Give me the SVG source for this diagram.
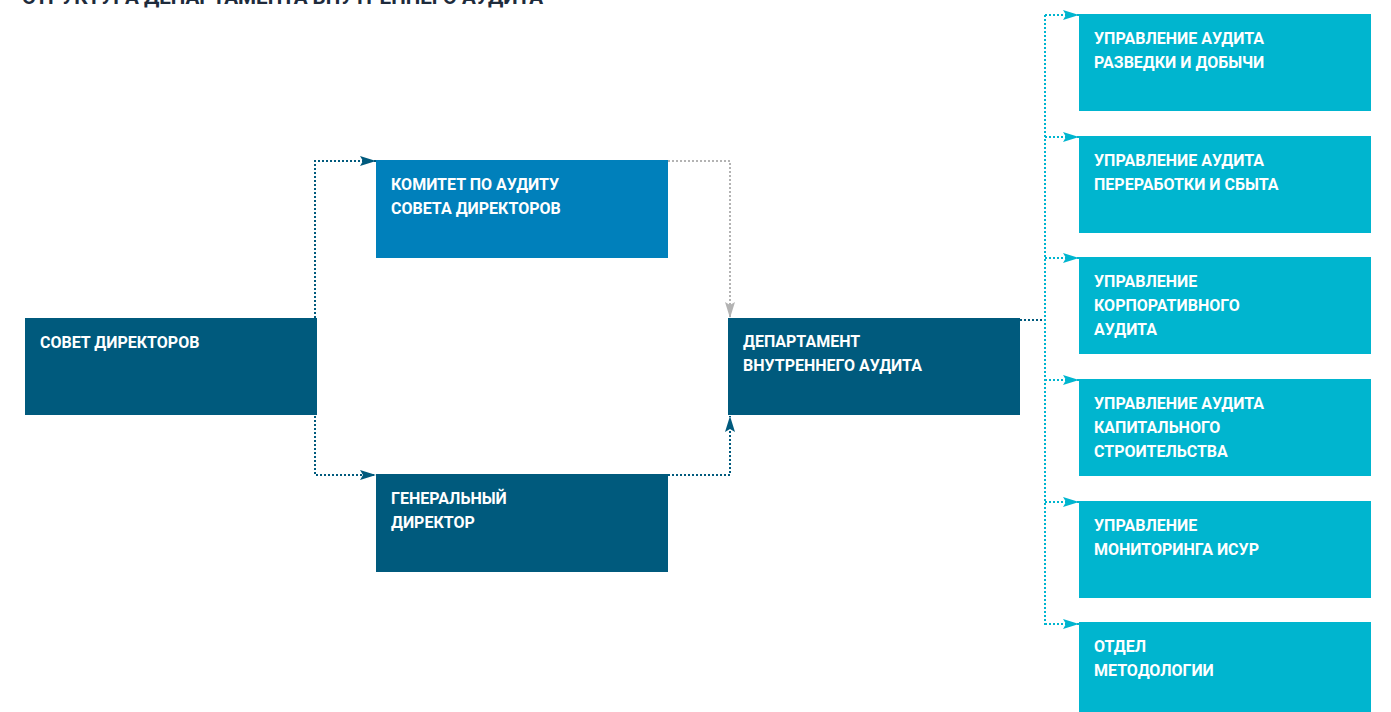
<svg xmlns="http://www.w3.org/2000/svg" width="1391" height="712" viewBox="0 0 1391 712">
<style>
.t{font-family:Roboto,"Liberation Sans",sans-serif;font-weight:700;font-size:16px;fill:#ffffff}
.title{font-family:Roboto,"Liberation Sans",sans-serif;font-weight:700;font-size:21px;fill:#1e2b3c}
.dk{fill:#005a7d}.md{fill:#0080bb}.cy{fill:#00b5cf}
.c{fill:none;stroke-width:2;stroke-dasharray:2 2}
.cd{stroke:#005a7d}.cg{stroke:#b3b3b3}.cc{stroke:#00b5cf}
</style>
<defs>
<marker id="ad" markerWidth="16" markerHeight="10" refX="16" refY="5" orient="auto" markerUnits="userSpaceOnUse"><path d="M0,0 L16,5 L0,10 L3,5 Z" fill="#005a7d"/></marker>
<marker id="ag" markerWidth="16" markerHeight="10" refX="16" refY="5" orient="auto" markerUnits="userSpaceOnUse"><path d="M0,0 L16,5 L0,10 L3,5 Z" fill="#b3b3b3"/></marker>
<marker id="ac" markerWidth="16" markerHeight="10" refX="16" refY="5" orient="auto" markerUnits="userSpaceOnUse"><path d="M0,0 L16,5 L0,10 L3,5 Z" fill="#00b5cf"/></marker>
</defs>
<rect width="1391" height="712" fill="#ffffff"/>
<text class="title" x="22" y="4" textLength="521" lengthAdjust="spacingAndGlyphs">СТРУКТУРА ДЕПАРТАМЕНТА ВНУТРЕННЕГО АУДИТА</text>
<g id="connectors">
<path class="c cd" d="M315,318 V161 H376" marker-end="url(#ad)"/>
<path class="c cd" d="M315,416 V475 H376" marker-end="url(#ad)"/>
<path class="c cg" d="M668,161 H730 V318" marker-end="url(#ag)"/>
<path class="c cd" d="M668,475 H730 V416" marker-end="url(#ad)"/>
<path class="c cd" d="M1020,320 H1045"/>
<path class="c cc" d="M1045,15 V625"/>
<path class="c cc" d="M1045,15 H1079" marker-end="url(#ac)"/>
<path class="c cc" d="M1045,137 H1079" marker-end="url(#ac)"/>
<path class="c cc" d="M1045,258 H1079" marker-end="url(#ac)"/>
<path class="c cc" d="M1045,380 H1079" marker-end="url(#ac)"/>
<path class="c cc" d="M1045,502 H1079" marker-end="url(#ac)"/>
<path class="c cc" d="M1045,624 H1079" marker-end="url(#ac)"/>
</g>
<g id="sovet"><rect class="dk" x="25" y="318" width="292" height="97"/><text class="t" x="40" y="348">СОВЕТ ДИРЕКТОРОВ</text></g>
<g id="komitet"><rect class="md" x="376" y="160" width="292" height="98"/><text class="t" x="391" y="190">КОМИТЕТ ПО АУДИТУ</text><text class="t" x="391" y="214">СОВЕТА ДИРЕКТОРОВ</text></g>
<g id="gendir"><rect class="dk" x="376" y="474" width="292" height="98"/><text class="t" x="391" y="504">ГЕНЕРАЛЬНЫЙ</text><text class="t" x="391" y="528">ДИРЕКТОР</text></g>
<g id="dvа"><rect class="dk" x="728" y="318" width="292" height="97"/><text class="t" x="743" y="347">ДЕПАРТАМЕНТ</text><text class="t" x="743" y="371">ВНУТРЕННЕГО АУДИТА</text></g>
<g id="u1"><rect class="cy" x="1079" y="14" width="292" height="97"/><text class="t" x="1094" y="44">УПРАВЛЕНИЕ АУДИТА</text><text class="t" x="1094" y="68">РАЗВЕДКИ И ДОБЫЧИ</text></g>
<g id="u2"><rect class="cy" x="1079" y="136" width="292" height="97"/><text class="t" x="1094" y="166">УПРАВЛЕНИЕ АУДИТА</text><text class="t" x="1094" y="190">ПЕРЕРАБОТКИ И СБЫТА</text></g>
<g id="u3"><rect class="cy" x="1079" y="257" width="292" height="97"/><text class="t" x="1094" y="287">УПРАВЛЕНИЕ</text><text class="t" x="1094" y="311">КОРПОРАТИВНОГО</text><text class="t" x="1094" y="335">АУДИТА</text></g>
<g id="u4"><rect class="cy" x="1079" y="379" width="292" height="97"/><text class="t" x="1094" y="409">УПРАВЛЕНИЕ АУДИТА</text><text class="t" x="1094" y="433">КАПИТАЛЬНОГО</text><text class="t" x="1094" y="457">СТРОИТЕЛЬСТВА</text></g>
<g id="u5"><rect class="cy" x="1079" y="501" width="292" height="97"/><text class="t" x="1094" y="531">УПРАВЛЕНИЕ</text><text class="t" x="1094" y="555">МОНИТОРИНГА ИСУР</text></g>
<g id="u6"><rect class="cy" x="1079" y="622" width="292" height="90"/><text class="t" x="1094" y="652">ОТДЕЛ</text><text class="t" x="1094" y="676">МЕТОДОЛОГИИ</text></g>
</svg>
